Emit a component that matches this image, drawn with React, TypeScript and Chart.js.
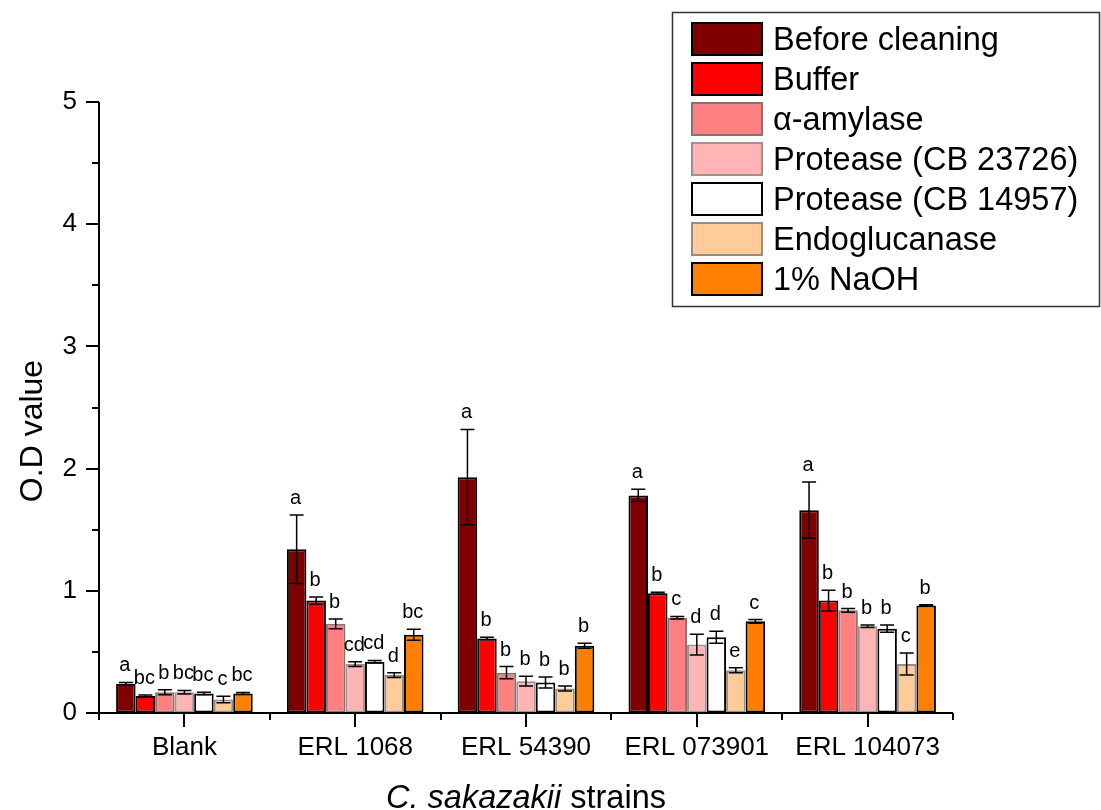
import React, { useEffect, useRef } from 'react';
import { Chart, registerables } from 'chart.js';

Chart.register(...registerables);

const categories = ['Blank', 'ERL 1068', 'ERL 54390', 'ERL 073901', 'ERL 104073'];
const seriesNames = [
  'Before cleaning',
  'Buffer',
  'α-amylase',
  'Protease (CB 23726)',
  'Protease (CB 14957)',
  'Endoglucanase',
  '1% NaOH',
];

const beforeCleaning = [0.24, 1.34, 1.93, 1.78, 1.66];
const buffer = [0.14, 0.92, 0.61, 0.98, 0.92];
const amylase = [0.17, 0.73, 0.33, 0.78, 0.84];
const protease23726 = [0.17, 0.4, 0.26, 0.56, 0.71];
const protease14957 = [0.16, 0.42, 0.25, 0.62, 0.69];
const endoglucanase = [0.11, 0.31, 0.2, 0.35, 0.4];
const naoh = [0.16, 0.64, 0.55, 0.75, 0.88];

const beforeCleaningErr = [0.01, 0.28, 0.39, 0.05, 0.23];
const bufferErr = [0.008, 0.03, 0.01, 0.008, 0.085];
const amylaseErr = [0.02, 0.04, 0.05, 0.01, 0.015];
const protease23726Err = [0.015, 0.02, 0.04, 0.085, 0.01];
const protease14957Err = [0.01, 0.01, 0.045, 0.05, 0.03];
const endoglucanaseErr = [0.027, 0.02, 0.02, 0.02, 0.09];
const naohErr = [0.008, 0.045, 0.02, 0.015, 0.005];

const beforeCleaningLetters = ['a', 'a', 'a', 'a', 'a'];
const bufferLetters = ['bc', 'b', 'b', 'b', 'b'];
const amylaseLetters = ['b', 'b', 'b', 'c', 'b'];
const protease23726Letters = ['bc', 'cd', 'b', 'd', 'b'];
const protease14957Letters = ['bc', 'cd', 'b', 'd', 'b'];
const endoglucanaseLetters = ['c', 'd', 'b', 'e', 'c'];
const naohLetters = ['bc', 'bc', 'b', 'c', 'b'];

const yTicks = [0, 1, 2, 3, 4, 5];

export default function App() {
  const ref = useRef<HTMLCanvasElement>(null);

  useEffect(() => {
    const canvas = ref.current;
    if (!canvas) return;
    const FONT = '"Liberation Sans", Arial, Helvetica, sans-serif';

    const values = [beforeCleaning, buffer, amylase, protease23726, protease14957, endoglucanase, naoh];
    const errors = [beforeCleaningErr, bufferErr, amylaseErr, protease23726Err, protease14957Err, endoglucanaseErr, naohErr];
    const letters = [
      beforeCleaningLetters,
      bufferLetters,
      amylaseLetters,
      protease23726Letters,
      protease14957Letters,
      endoglucanaseLetters,
      naohLetters,
    ];
    const fills = ['#800000', '#FF0000', '#FF8080', '#FFB5B5', '#FFFFFF', '#FFCC99', '#FF8000'];
    const borders = ['#000000', '#000000', '#8a7070', '#a09090', '#000000', '#9a8c80', '#000000'];

    const datasets = values.map((vals, i) => ({
      label: seriesNames[i],
      data: vals,
      backgroundColor: fills[i],
      borderColor: borders[i],
      borderWidth: 2,
      borderSkipped: false as const,
      categoryPercentage: 0.8,
      barPercentage: 1.0,
    }));

    const axesPlugin = {
      id: 'customAxes',
      afterDraw(chart: any) {
        const ctx = chart.ctx;
        const { left, right, top, bottom } = chart.chartArea;
        const ys = chart.scales.y;
        const xs = chart.scales.x;
        ctx.save();
        ctx.strokeStyle = '#000';
        ctx.lineWidth = 2;
        ctx.beginPath();
        ctx.moveTo(left, top);
        ctx.lineTo(left, bottom + 1);
        ctx.moveTo(left - 1, bottom);
        ctx.lineTo(right, bottom);
        for (let v = 0; v <= 5.001; v += 0.5) {
          const py = Math.round(ys.getPixelForValue(v));
          const major = Math.abs(v - Math.round(v)) < 1e-6;
          ctx.moveTo(left - (major ? 13 : 7), py);
          ctx.lineTo(left, py);
        }
        const n = categories.length;
        for (let i = 0; i < n; i++) {
          const px = Math.round(xs.getPixelForValue(i));
          ctx.moveTo(px, bottom);
          ctx.lineTo(px, bottom + 14);
        }
        for (let i = 0; i <= n; i++) {
          const px = Math.round(left + ((right - left) * i) / n);
          ctx.moveTo(px, bottom);
          ctx.lineTo(px, bottom + 7);
        }
        ctx.stroke();

        ctx.fillStyle = '#000';
        ctx.textBaseline = 'alphabetic';
        ctx.font = `italic 32.5px ${FONT}`;
        const p1 = 'C. sakazakii';
        const w1 = ctx.measureText(p1).width;
        ctx.font = `32.5px ${FONT}`;
        const p2 = ' strains';
        const w2 = ctx.measureText(p2).width;
        const cx = (left + right) / 2;
        const sx = cx - (w1 + w2) / 2;
        ctx.textAlign = 'left';
        ctx.font = `italic 32.5px ${FONT}`;
        ctx.fillText(p1, sx, 808);
        ctx.font = `32.5px ${FONT}`;
        ctx.fillText(p2, sx + w1, 808);

        ctx.save();
        ctx.translate(42, 431);
        ctx.rotate(-Math.PI / 2);
        ctx.textAlign = 'center';
        ctx.font = `32px ${FONT}`;
        ctx.fillText('O.D value', 0, 0);
        ctx.restore();

        ctx.lineWidth = 1.5;
        ctx.strokeStyle = '#333';
        ctx.strokeRect(672.5, 12.5, 427, 294);
        chart.data.datasets.forEach((ds: any, i: number) => {
          const y0 = 22 + 40 * i;
          ctx.fillStyle = ds.backgroundColor;
          ctx.fillRect(691, y0, 72, 34);
          ctx.strokeStyle = ds.borderColor;
          ctx.lineWidth = 2;
          ctx.strokeRect(692, y0 + 1, 70, 32);
          ctx.fillStyle = '#000';
          ctx.textAlign = 'left';
          ctx.font = `32.5px ${FONT}`;
          ctx.fillText(ds.label, 773, y0 + 27.5);
        });
        ctx.restore();
      },
    };

    const errPlugin = {
      id: 'errorBars',
      afterDatasetsDraw(chart: any) {
        const ctx = chart.ctx;
        const ys = chart.scales.y;
        ctx.save();
        ctx.strokeStyle = '#000';
        ctx.lineWidth = 1.5;
        ctx.fillStyle = '#000';
        ctx.font = `20px ${FONT}`;
        ctx.textAlign = 'center';
        ctx.textBaseline = 'alphabetic';
        chart.data.datasets.forEach((ds: any, i: number) => {
          const meta = chart.getDatasetMeta(i);
          meta.data.forEach((bar: any, j: number) => {
            const v = ds.data[j];
            const e = errors[i][j];
            const yt = ys.getPixelForValue(v + e);
            const yb = ys.getPixelForValue(v - e);
            const x = bar.x;
            ctx.beginPath();
            ctx.moveTo(x, yt);
            ctx.lineTo(x, yb);
            ctx.moveTo(x - 7, yt);
            ctx.lineTo(x + 7, yt);
            ctx.moveTo(x - 7, yb);
            ctx.lineTo(x + 7, yb);
            ctx.stroke();
            ctx.fillText(letters[i][j], x - 1, yt - 11);
          });
        });
        ctx.restore();
      },
    };

    const chart = new Chart(canvas, {
      type: 'bar',
      data: { labels: categories, datasets },
      options: {
        responsive: false,
        animation: false,
        events: [],
        layout: { padding: { left: 0, top: 102, right: 148, bottom: 0 } },
        plugins: { legend: { display: false }, tooltip: { enabled: false }, title: { display: false } },
        scales: {
          x: {
            offset: true,
            afterFit: (s: any) => {
              s.height = 97;
            },
            grid: {
              display: true,
              drawOnChartArea: false,
              drawTicks: true,
              tickLength: 14,
              color: 'rgba(0,0,0,0)',
              tickColor: 'rgba(0,0,0,0)',
            },
            border: { display: false },
            ticks: {
              font: { family: FONT, size: 26 },
              color: '#000',
              padding: 5,
              maxRotation: 0,
              autoSkip: false,
            },
          },
          y: {
            min: 0,
            max: 5,
            afterFit: (s: any) => {
              s.width = 99;
            },
            afterBuildTicks: (s: any) => {
              s.ticks = yTicks.map((v) => ({ value: v }));
            },
            grid: {
              display: true,
              drawOnChartArea: false,
              drawTicks: true,
              tickLength: 13,
              color: 'rgba(0,0,0,0)',
              tickColor: 'rgba(0,0,0,0)',
            },
            border: { display: false },
            ticks: {
              font: { family: FONT, size: 26 },
              color: '#000',
              padding: 9,
              callback: (v: any) => String(v),
            },
          },
        },
      },
      plugins: [errPlugin, axesPlugin],
    });

    return () => chart.destroy();
  }, []);

  return (
    <div style={{ position: 'fixed', left: 0, top: 0, width: 1101, height: 810, background: '#fff' }}>
      <canvas ref={ref} width={1101} height={810} style={{ display: 'block', width: 1101, height: 810 }} />
    </div>
  );
}
